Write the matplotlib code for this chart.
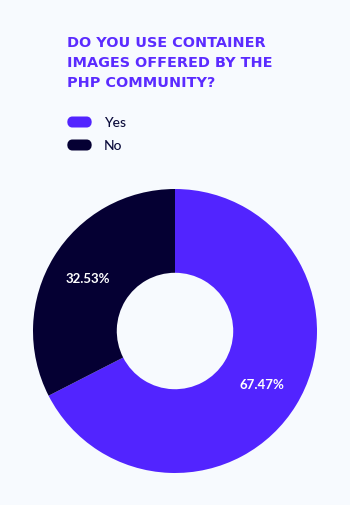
import matplotlib
matplotlib.use("Agg")
import matplotlib.pyplot as plt
from matplotlib.patches import FancyBboxPatch

title_lines = ["DO YOU USE CONTAINER", "IMAGES OFFERED BY THE", "PHP COMMUNITY?"]
categories = ["Yes", "No"]
values = [67.47, 32.53]
colors = ["#5224FF", "#050033"]
bg = "#F7FAFE"

fig = plt.figure(figsize=(3.5, 5.06), dpi=100, facecolor=bg)

# Title
for i, line in enumerate(title_lines):
    fig.text(67 / 350, 1 - (43 + 20 * i) / 506, line, color="#5B2BFF",
             fontsize=10.4, fontweight="bold", family="DejaVu Sans",
             va="center", ha="left")

# Legend
for i, cat in enumerate(categories):
    yc = 123 + 23 * i
    box = FancyBboxPatch((67 / 350, 1 - (yc + 5.5) / 506), 25 / 350, 11 / 506,
                         boxstyle="round,pad=0,rounding_size=0.015",
                         transform=fig.transFigure, facecolor=colors[i],
                         edgecolor="none")
    fig.patches.append(box)
    fig.text(104 / 350, 1 - yc / 506, cat, color="#0A0A3A", fontsize=10,
             fontweight="medium", family="Lato", va="center", ha="left")

# Donut
r = 142
cx, cy = 175, 332
ax = fig.add_axes([(cx - r) / 350, 1 - (cy + r) / 506, 2 * r / 350, 2 * r / 506])
ax.set_facecolor(bg)
wedges, texts, autotexts = ax.pie(values, colors=colors, startangle=90,
                                  counterclock=False, autopct="%.2f%%",
                                  pctdistance=0.72,
                                  wedgeprops=dict(width=0.59, edgecolor="none"),
                                  textprops=dict(color="white", fontsize=9.5,
                                                 fontweight="bold", family="Lato"))
ax.set_xlim(-1, 1)
ax.set_ylim(-1, 1)
ax.set_aspect("equal")
ax.axis("off")

fig.savefig("out.png", dpi=100, facecolor=bg)
